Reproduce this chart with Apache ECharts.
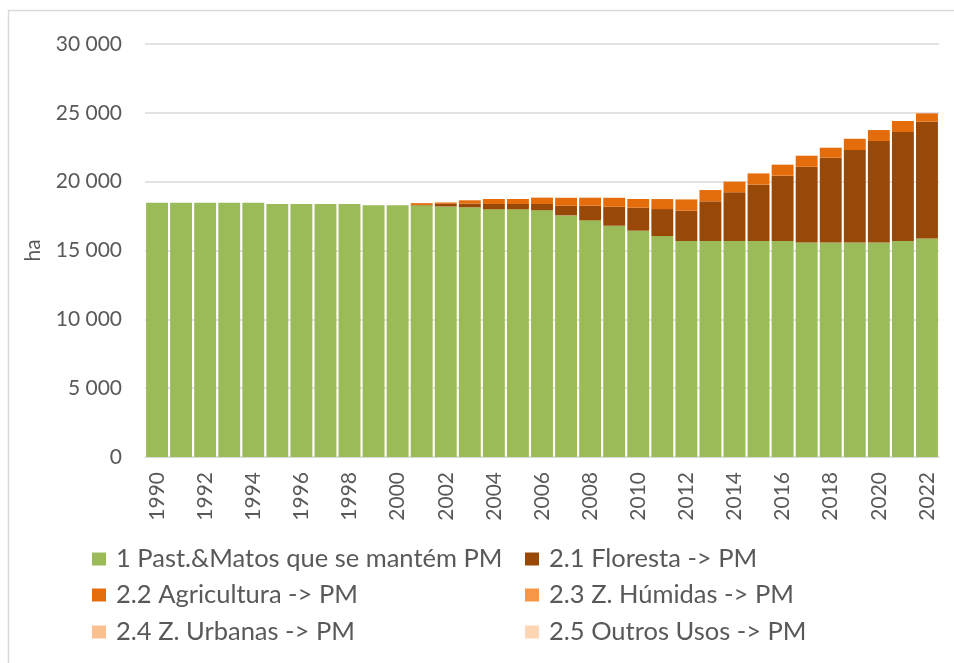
<!DOCTYPE html>
<html>
<head>
<meta charset="utf-8">
<script src="https://cdn.jsdelivr.net/npm/echarts@6/dist/echarts.min.js"></script>
<style>
html,body{margin:0;padding:0;background:#fff;}
#c{width:954px;height:663px;}
</style>
</head>
<body>
<div id="c"></div>
<script>
var years = ['1990','1991','1992','1993','1994','1995','1996','1997','1998','1999','2000','2001','2002','2003','2004','2005','2006','2007','2008','2009','2010','2011','2012','2013','2014','2015','2016','2017','2018','2019','2020','2021','2022'];
var seriesNames = ['1 Past.&Matos que se mantém PM','2.1 Floresta -> PM','2.2 Agricultura -> PM','2.3 Z. Húmidas -> PM','2.4 Z. Urbanas -> PM','2.5 Outros Usos -> PM'];
var pastMatos = [18470,18470,18470,18470,18470,18370,18370,18370,18370,18280,18290,18280,18200,18140,17990,17990,17920,17550,17190,16800,16440,16050,15690,15690,15690,15690,15690,15590,15590,15590,15590,15690,15880];
var floresta = [0,0,0,0,0,0,0,0,0,0,0,30,190,266,390,390,460,700,1065,1380,1670,1960,2200,2880,3535,4090,4745,5495,6150,6705,7360,7915,8475];
var agricultura = [0,0,0,0,0,0,0,0,0,0,0,130,100,240,360,360,460,580,580,650,630,726,820,820,775,820,800,800,726,820,800,800,605];
var humidas = [0,0,0,0,0,0,0,0,0,0,0,0,0,0,0,0,0,0,0,0,0,0,0,0,0,0,0,0,0,0,0,0,0];
var urbanas = [0,0,0,0,0,0,0,0,0,0,0,0,0,0,0,0,0,0,0,0,0,0,0,0,0,0,0,0,0,0,0,0,0];
var outros = [0,0,0,0,0,0,0,0,0,0,0,0,0,0,0,0,0,0,0,0,0,0,0,0,0,0,0,0,0,0,0,0,0];
var yTicks = [0,5000,10000,15000,20000,25000,30000];

var colors = ['#9BBB59','#984807','#E46C0A','#F79646','#FAC090','#FCD5B5'];
var allData = [pastMatos, floresta, agricultura, humidas, urbanas, outros];
var FONT = 'Lato';

var legendPos = [
  {left: 92, top: 546}, {left: 525, top: 546},
  {left: 92, top: 582}, {left: 525, top: 582},
  {left: 92, top: 619}, {left: 525, top: 619}
];
var legends = seriesNames.map(function(n, i){
  return {
    data: [n], left: legendPos[i].left, top: legendPos[i].top, padding: 0,
    icon: 'rect', itemWidth: 14, itemHeight: 13, itemGap: 0,
    selectedMode: false,
    textStyle: {fontFamily: FONT, fontSize: 25.5, color: '#595959', lineHeight: 26, padding: [0,0,0,5]}
  };
});

var chart = echarts.init(document.getElementById('c'), null, {renderer: 'canvas'});
chart.setOption({
  animation: false,
  backgroundColor: '#fff',
  color: colors,
  graphic: [{type: 'rect', shape: {x: 8.5, y: 10.5, width: 960, height: 680}, style: {fill: 'none', stroke: '#d9d9d9', lineWidth: 1.5}, silent: true}],
  grid: {left: 145, right: 15, top: 44, bottom: 206, containLabel: false},
  legend: legends,
  xAxis: {
    type: 'category', data: years,
    axisLine: {lineStyle: {color: '#d9d9d9', width: 1}},
    axisTick: {show: false},
    axisLabel: {interval: 1, rotate: 90, margin: 15, fontFamily: FONT, fontSize: 21, color: '#595959'}
  },
  yAxis: {
    type: 'value', min: yTicks[0], max: yTicks[yTicks.length-1], interval: yTicks[1]-yTicks[0],
    name: 'ha', nameLocation: 'middle', nameGap: 101,
    nameTextStyle: {fontFamily: FONT, fontSize: 21, color: '#595959'},
    axisLine: {show: false}, axisTick: {show: false},
    splitLine: {lineStyle: {color: '#d9d9d9', width: 1.5}},
    axisLabel: {margin: 23, fontFamily: FONT, fontSize: 21, color: '#595959',
      formatter: function(v){ return String(v).replace(/\B(?=(\d{3})+(?!\d))/g, ' '); }}
  },
  series: allData.map(function(d, i){
    return {name: seriesNames[i], type: 'bar', stack: 'total', data: d, barCategoryGap: '9%',
      itemStyle: {color: colors[i]}};
  })
});
</script>
</body>
</html>
